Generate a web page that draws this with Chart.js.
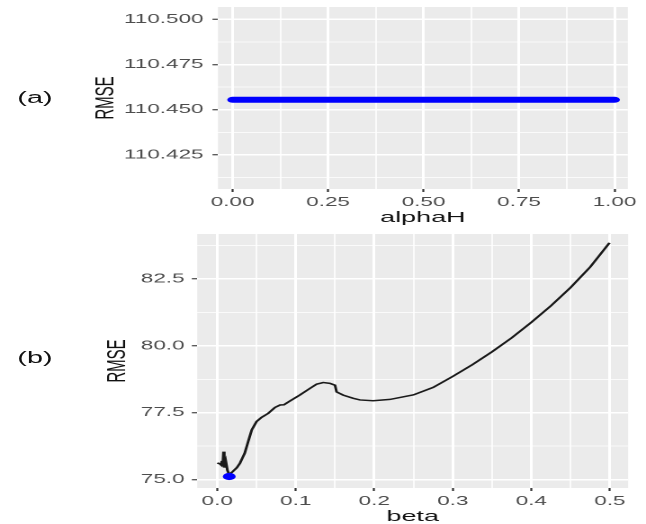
<!DOCTYPE html>
<html>
<head>
<meta charset="utf-8">
<script src="https://cdn.jsdelivr.net/npm/chart.js@4.4.1/dist/chart.umd.min.js"></script>
<style>
  html, body { margin: 0; padding: 0; background: #fff; overflow: hidden; width: 646px; height: 524px; }
  /* the figure is laid out narrow and widened as a whole */
  #sheet { position: absolute; left: 0; top: 0; width: 359px; height: 524px;
           transform: scaleX(1.7994); transform-origin: 0 0; }
  .panel { position: absolute; left: 0; }
  .tag { position: absolute; font: 16px 'Liberation Sans', Arial, sans-serif; color: #111;
         transform: translate(-50%, -50%); white-space: nowrap; }
</style>
</head>
<body>
<div id="sheet">
  <div class="tag" style="left:19.4px; top:98px">(a)</div>
  <div class="tag" style="left:19.4px; top:358px">(b)</div>
  <canvas id="ca" class="panel" style="top:0px" width="359" height="230"></canvas>
  <canvas id="cb" class="panel" style="top:230px" width="359" height="296"></canvas>
</div>
<script>
// Panel (a): RMSE against alphaH
const alphaH = [0, 1];
const rmseA = [110.4555, 110.4555];
const alphaTicks = [0, 0.25, 0.5, 0.75, 1];
const rmseATicks = [110.425, 110.45, 110.475, 110.5];

// Panel (b): RMSE against beta
const beta = [0.000, 0.003, 0.005, 0.006, 0.007, 0.008, 0.009, 0.011, 0.013, 0.0153,
              0.020, 0.025, 0.029, 0.035, 0.0395, 0.044, 0.050, 0.0565, 0.065, 0.0735,
              0.080, 0.085, 0.0926, 0.105, 0.118, 0.1266, 0.135, 0.1435, 0.150, 0.152,
              0.1604, 0.1732, 0.1817, 0.1986, 0.220, 0.250, 0.275, 0.300, 0.325, 0.350,
              0.375, 0.400, 0.425, 0.450, 0.475, 0.4995];
const rmseB = [75.62, 75.60, 75.55, 75.70, 75.50, 76.05, 75.45, 75.68, 75.35, 75.19,
               75.31, 75.45, 75.62, 75.99, 76.43, 76.86, 77.17, 77.33, 77.48, 77.70,
               77.79, 77.80, 77.94, 78.16, 78.41, 78.57, 78.63, 78.60, 78.53, 78.28,
               78.16, 78.04, 77.98, 77.95, 78.00, 78.17, 78.45, 78.86, 79.30, 79.78,
               80.30, 80.88, 81.50, 82.18, 82.95, 83.85];
const bestBeta = [0.0153];
const bestRmse = [75.12];
const betaTicks = [0, 0.1, 0.2, 0.3, 0.4, 0.5];
const rmseBTicks = [75, 77.5, 80, 82.5];

const FONT = "'Liberation Sans', Arial, Helvetica, sans-serif";
const PANEL_BG = '#EBEBEB';
const TICK_TEXT = '#4D4D4D';
const TITLE_TEXT = '#111111';

// major ticks plus a minor grid line halfway between neighbours (and one step past each end)
function gridTicks(major, min, max) {
  const step = major[1] - major[0];
  const out = [];
  out.push({ value: major[0] - step / 2, minor: true });
  major.forEach((v, i) => {
    out.push({ value: v, minor: false });
    const next = i < major.length - 1 ? major[i + 1] : v + step;
    out.push({ value: (v + next) / 2, minor: true });
  });
  return out.filter(t => t.value >= min && t.value <= max);
}

function gridOpts() {
  return {
    color: '#FFFFFF',
    lineWidth: c => (c.tick && c.tick.minor ? 0.8 : 1.5),
    drawTicks: true,
    tickLength: 3,
    tickWidth: 1.1,
    tickColor: c => (c.tick && c.tick.minor ? 'rgba(0,0,0,0)' : '#333333')
  };
}

function xAxis(min, max, major, fmt, title, height, titlePad) {
  return {
    type: 'linear', min, max,
    afterBuildTicks: s => { s.ticks = gridTicks(major, min, max); },
    afterFit: s => { s.height = height; s.paddingLeft = 0; s.paddingRight = 0; },
    border: { display: false },
    grid: gridOpts(),
    ticks: {
      autoSkip: false, maxRotation: 0, minRotation: 0, padding: 3,
      color: TICK_TEXT, font: { family: FONT, size: 12.5 },
      callback: (v, i, ticks) => (ticks[i].minor ? '' : fmt(v))
    },
    title: { display: true, text: title, color: TITLE_TEXT,
             font: { family: FONT, size: 15 }, padding: { top: 0, bottom: titlePad } }
  };
}

function yAxis(min, max, major, fmt, title, width, titleOffset, tickPad) {
  return {
    type: 'linear', min, max,
    afterBuildTicks: s => { s.ticks = gridTicks(major, min, max); },
    afterFit: s => { s.width = width; s.paddingTop = 0; s.paddingBottom = 0; },
    border: { display: false },
    grid: gridOpts(),
    ticks: {
      autoSkip: false, padding: tickPad,
      color: TICK_TEXT, font: { family: FONT, size: 12.5 },
      callback: (v, i, ticks) => (ticks[i].minor ? '' : fmt(v))
    },
    title: { display: true, text: title, color: TITLE_TEXT,
             font: { family: FONT, size: 15 }, padding: { top: titleOffset, bottom: 0 } }
  };
}

// grey panel behind the grid
const panelBg = {
  id: 'panelBg',
  beforeDraw(chart) {
    const { ctx, chartArea: a } = chart;
    ctx.save();
    ctx.fillStyle = PANEL_BG;
    ctx.fillRect(a.left, a.top, a.right - a.left, a.bottom - a.top);
    ctx.restore();
  }
};

const common = {
  responsive: false,
  animation: false,
  devicePixelRatio: 2,
  plugins: { legend: { display: false }, tooltip: { enabled: false } }
};

new Chart(document.getElementById('ca'), {
  type: 'scatter',
  data: {
    datasets: [{
      data: alphaH.map((x, i) => ({ x, y: rmseA[i] })),
      showLine: true,
      borderColor: '#0000FF',
      borderWidth: 6,
      borderCapStyle: 'round',
      pointRadius: 0
    }]
  },
  options: Object.assign({}, common, {
    layout: { padding: { left: 0, top: 7, right: 10.1, bottom: 0 } },
    scales: {
      x: xAxis(-0.0385, 1.0348, alphaTicks, v => v.toFixed(2), 'alphaH', 41, 3),
      y: yAxis(110.4062, 110.5068, rmseATicks, v => v.toFixed(3), 'RMSE', 121.1, 49.9, 5)
    }
  }),
  plugins: [panelBg]
});

new Chart(document.getElementById('cb'), {
  type: 'scatter',
  data: {
    datasets: [
      {
        data: bestBeta.map((x, i) => ({ x, y: bestRmse[i] })),
        pointRadius: 3.6,
        pointBackgroundColor: '#0000FF',
        pointBorderWidth: 0
      },
      {
        data: beta.map((x, i) => ({ x, y: rmseB[i] })),
        showLine: true,
        borderColor: '#1A1A1A',
        borderWidth: 1.5,
        pointRadius: 0,
        tension: 0
      }
    ]
  },
  options: Object.assign({}, common, {
    layout: { padding: { left: 0, top: 3, right: 9.9, bottom: 0 } },
    scales: {
      x: xAxis(-0.02546, 0.5233, betaTicks, v => v.toFixed(1), 'beta', 38, 0),
      y: yAxis(74.69, 84.18, rmseBTicks, v => v.toFixed(1), 'RMSE', 109.6, 56.6, 4)
    }
  }),
  plugins: [panelBg]
});
</script>
</body>
</html>
